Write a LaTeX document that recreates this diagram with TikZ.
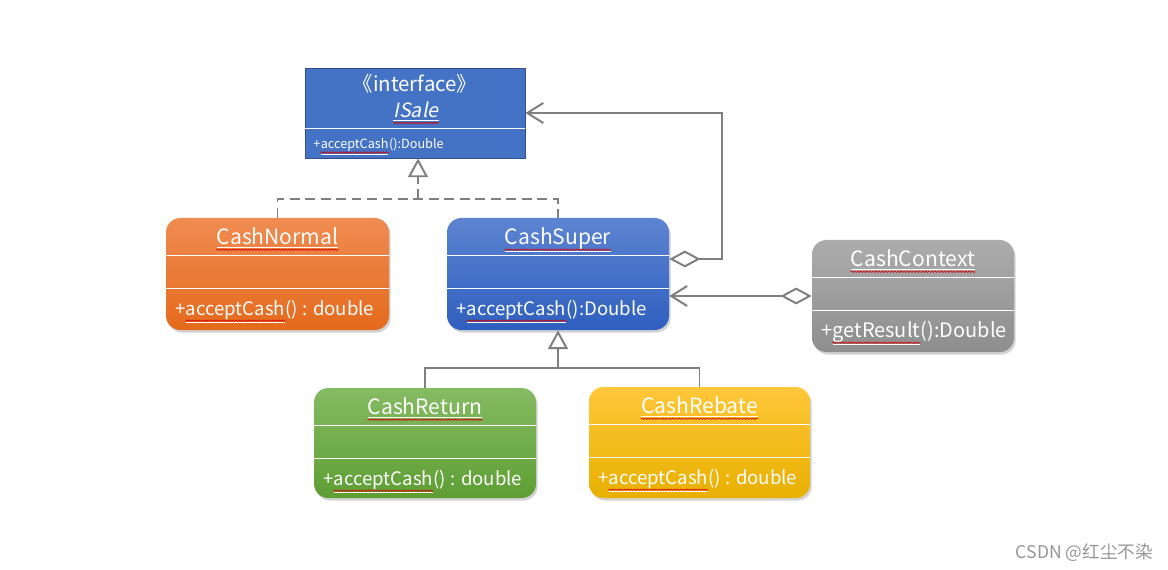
\documentclass[tikz,border=0pt]{standalone}
\usepackage{fontspec}
\setmainfont{Noto Sans CJK SC}[ItalicFont={Noto Sans CJK SC},ItalicFeatures={FakeSlant=0.2}]
\usepackage{tikz}
\usetikzlibrary{arrows.meta,calc,shadows,decorations.pathmorphing}
\definecolor{linegray}{RGB}{127,127,127}
\definecolor{isaleblue}{RGB}{68,114,196}
\definecolor{isaleedge}{RGB}{47,82,143}
\definecolor{bluetop}{RGB}{92,132,209}
\definecolor{bluebot}{RGB}{47,95,191}
\definecolor{orangetop}{RGB}{240,140,82}
\definecolor{orangebot}{RGB}{228,106,28}
\definecolor{graytop}{RGB}{172,172,172}
\definecolor{graybot}{RGB}{142,142,142}
\definecolor{greentop}{RGB}{133,187,99}
\definecolor{greenbot}{RGB}{94,158,51}
\definecolor{yellowtop}{RGB}{255,199,58}
\definecolor{yellowbot}{RGB}{232,176,0}
\definecolor{markgray}{RGB}{150,150,150}
\tikzset{%
    boxsize/.style 2 args={minimum width=#1*0.025cm, minimum height=#2*0.025cm},
    classbox/.style={draw=none, rounded corners=0.36cm, inner sep=0pt,
        drop shadow={shadow xshift=1.2pt, shadow yshift=-1.8pt, opacity=0.35}},
    rowline/.style={white, line width=0.6pt},
    titletext/.style={inner sep=0pt, anchor=base, text=white, font=\fontsize{15}{18}\selectfont},
    methodtext/.style={inner sep=0pt, anchor=base west, text=white, font=\fontsize{#1}{16}\selectfont},
    methodtext/.default=13.2,
    spell/.style={draw=red!85!black, line width=0.45pt, decorate,
        decoration={snake, amplitude=0.5pt, segment length=2.2pt}},
    conn/.style={draw=linegray, line width=1.4pt},
    realize/.style={conn, dash pattern=on 7pt off 4pt},
    inherit/.style={-{Triangle[open, fill=white, length=0.47cm, width=0.5cm]}},
    aggr/.style={{Straight Barb[length=0.4cm, width=0.5cm]}-{Diamond[open, fill=white, length=0.78cm, width=0.42cm]}}
}
\newcommand{\classrows}[5][13.2]{%
    \draw[rowline] ($(#2.north west)+(0,38)$) -- ($(#2.north east)+(0,38)$);
    \draw[rowline] ($(#2.north west)+(0,71)$) -- ($(#2.north east)+(0,71)$);
    \node[titletext] (#2-title) at ($(#2.north)+(0,27)$) {\underline{#3}};
    \draw[spell] ($(#2-title.base west)+(0,5)$) -- ($(#2-title.base east)+(0,5)$);
    \node[methodtext=#1] (#2-plus) at ($(#2.north west)+(9,98)$) {+};
    \node[methodtext=#1] (#2-method) at (#2-plus.base east) {\underline{#4}};
    \draw[spell] ($(#2-method.base west)+(0,5)$) -- ($(#2-method.base east)+(0,5)$);
    \node[methodtext=#1] (#2-rest) at (#2-method.base east) {#5};
}
\begin{document}
\begin{tikzpicture}[x=0.025cm, y=-0.025cm]
\useasboundingbox[fill=white] (0,0) rectangle (1168,570);

\node[draw=isaleedge, line width=0.6pt, fill=isaleblue, boxsize={220}{90}] (isale) at (415,113) {};
\node[classbox, top color=orangetop, bottom color=orangebot, boxsize={223}{112}] (normal) at (277.5,274) {};
\node[classbox, top color=bluetop, bottom color=bluebot, boxsize={222}{112}] (super) at (558,274) {};
\node[classbox, top color=graytop, bottom color=graybot, boxsize={202}{112}] (context) at (913,296) {};
\node[classbox, top color=greentop, bottom color=greenbot, boxsize={222}{110}] (return) at (425,443) {};
\node[classbox, top color=yellowtop, bottom color=yellowbot, boxsize={221}{111}] (rebate) at (699.5,442.5) {};

\node[titletext, font=\fontsize{14.5}{17}\selectfont] (isale-stereo) at (415,92) {《interface》};
\node[titletext, font=\fontsize{14}{16}\selectfont\itshape] (isale-title) at (416,118) {\underline{ISale}};
\draw[spell] ($(isale-title.base west)+(0,5)$) -- ($(isale-title.base east)+(0,5)$);
\draw[rowline] ($(isale.north west)+(0,61)$) -- ($(isale.north east)+(0,61)$);
\node[methodtext=9] (isale-plus) at (313,149) {+};
\node[methodtext=9] (isale-method) at (isale-plus.base east) {\underline{acceptCash}};
\draw[spell] ($(isale-method.base west)+(0,3.5)$) -- ($(isale-method.base east)+(0,3.5)$);
\node[methodtext=9] (isale-rest) at (isale-method.base east) {():Double};

\classrows{normal}{CashNormal}{acceptCash}{() : double}
\classrows{super}{CashSuper}{acceptCash}{():Double}
\classrows[14.2]{context}{CashContext}{getResult}{():Double}
\classrows{return}{CashReturn}{acceptCash}{() : double}
\classrows{rebate}{CashRebate}{acceptCash}{() : double}

\coordinate (dj) at (418,199);
\draw[realize] (normal.north) |- (dj) -| (super.north);
\draw[realize, inherit] (dj) -- (dj |- isale.south);

\draw[conn, aggr] (isale.east) -- ++(197,0) |- ($(super.east)+(0,-15)$);
\draw[conn, aggr] (super.east |- context.west) -- (context.west);

\coordinate (gj) at (558,368);
\draw[conn] (return.north) |- (gj) -| (rebate.north);
\draw[conn, inherit] (gj) -- (super.south);

\node[anchor=base east, inner sep=0pt, text=markgray, font=\fontsize{12.5}{15}\selectfont] (mark) at (1153,558) {CSDN @红尘不染};
\end{tikzpicture}
\end{document}
